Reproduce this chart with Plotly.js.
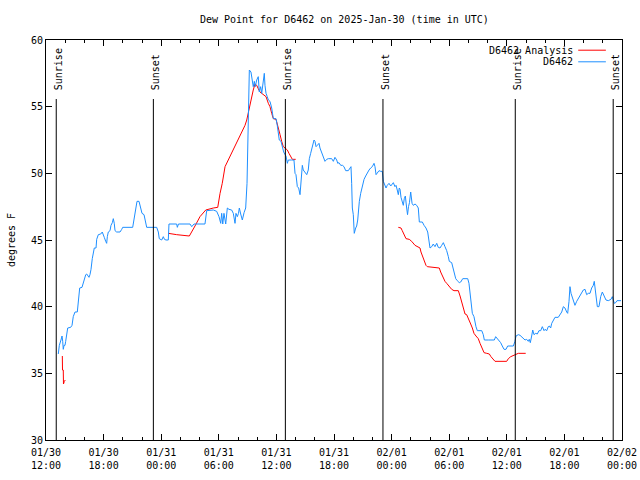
<!DOCTYPE html>
<html>
<head>
<meta charset="utf-8">
<script src="https://cdn.plot.ly/plotly-3.0.1.min.js"></script>
<style>html,body{margin:0;padding:0;background:#fff;}#chart{width:640px;height:480px;}</style>
</head>
<body>
<div id="chart"></div>
<script>
// Hours since 2025-01-30 12:00 UTC
const obsHours = [1.28,1.39,1.56,1.67,1.74,1.80,1.88,1.98,2.05,2.16,2.26,2.57,2.71,2.84,3.02,3.26,3.36,3.44,3.51,3.75,3.96,4.14,4.24,4.48,4.58,4.69,4.82,4.93,5.03,5.21,5.28,5.45,5.70,5.86,5.97,6.07,6.22,6.32,6.39,6.49,6.67,6.77,6.91,7.01,7.11,7.19,7.36,7.71,7.89,7.99,9.03,9.17,9.27,9.38,9.48,9.69,9.82,10.00,10.21,10.34,10.49,11.53,11.70,11.80,12.05,12.22,12.34,12.50,12.74,12.81,13.61,13.68,13.80,15.00,15.18,15.42,16.56,16.74,17.43,17.78,18.02,18.20,18.30,18.41,18.54,18.72,18.89,19.06,19.34,19.51,19.69,19.79,19.93,20.05,20.14,20.28,20.45,20.63,20.80,20.94,21.07,21.18,21.35,21.49,21.59,21.70,21.80,21.95,22.11,22.22,22.36,22.47,22.64,22.74,22.81,22.92,23.05,23.16,23.33,23.51,23.68,23.96,24.09,24.20,24.30,24.48,24.61,24.76,24.90,25.00,25.14,25.24,25.59,25.83,25.94,26.04,26.18,26.32,26.46,26.56,26.70,26.80,26.98,27.16,27.32,27.43,27.57,27.78,27.92,28.02,28.13,28.26,28.44,28.54,28.72,28.89,29.06,29.24,29.41,29.76,29.93,30.10,30.28,30.39,30.52,30.70,30.89,31.04,31.22,31.49,31.67,31.77,31.84,31.91,32.01,32.11,32.26,32.36,32.47,32.53,32.64,32.78,32.95,33.13,33.30,33.47,33.65,33.82,33.99,34.17,34.27,34.38,34.51,34.69,34.86,35.03,35.14,35.31,35.42,35.55,35.73,35.91,36.07,36.18,36.35,36.46,36.59,36.70,36.80,36.88,36.98,37.11,37.22,37.32,37.43,37.57,37.66,37.76,37.86,37.99,38.13,38.26,38.44,38.61,38.78,38.89,39.20,39.38,39.58,39.76,39.90,40.00,40.18,40.34,40.52,40.70,40.86,41.04,41.22,41.39,41.56,41.74,41.91,42.01,42.26,42.36,42.50,42.68,42.84,43.05,43.20,43.41,43.65,43.93,44.06,44.17,44.27,44.41,44.58,44.69,44.79,44.93,45.39,45.55,45.66,46.07,46.43,46.70,46.84,47.01,47.19,47.36,47.53,47.71,47.92,48.09,48.68,48.85,48.96,49.20,49.38,49.55,49.72,49.90,50.07,50.24,50.34,50.45,50.59,50.70,50.83,51.01,51.18,51.35,51.53,51.70,51.88,51.98,52.16,52.32,52.43,52.57,52.68,52.84,53.02,53.36,53.54,53.72,53.89,54.06,54.24,54.34,54.48,54.58,54.69,54.86,55.10,55.28,55.45,55.73,55.97,56.15,56.32,56.49,56.67,56.84,57.01,57.11,57.26,57.43,57.60,57.78,57.95,58.16,58.33,58.57,58.85,58.99,59.09,59.20,59.34,59.48,59.90];
const obsDew = [36.45,37.1,37.5,37.8,37.4,36.8,37.1,37.1,37.4,38.0,38.4,38.45,38.6,39.25,39.6,39.6,40.25,40.9,41.4,41.45,42.0,42.4,42.45,42.2,42.4,42.8,43.6,44.2,44.4,44.4,45.05,45.4,45.45,45.6,45.45,45.2,44.9,44.75,45.25,45.6,45.7,46.1,46.3,46.6,46.25,45.7,45.6,45.6,45.8,45.95,45.95,46.6,47.2,47.55,47.9,47.9,47.5,47.0,46.9,46.5,45.95,45.95,45.6,45.1,45.0,45.25,45.05,45.0,45.0,46.2,46.2,45.95,46.2,46.2,46.0,46.2,46.2,47.2,47.25,47.15,46.75,46.25,47.0,46.2,47.0,46.2,47.4,47.3,47.25,47.0,46.25,47.0,46.75,47.0,47.4,46.95,46.5,47.05,47.4,49.25,53.5,57.75,57.6,57.0,56.5,56.9,56.5,57.0,57.25,56.1,56.5,56.0,57.0,57.5,56.6,56.0,55.75,55.5,55.4,54.9,54.1,54.1,53.6,53.1,52.5,52.4,52.0,51.6,51.4,51.3,50.75,51.0,51.0,51.0,50.0,49.9,49.0,48.9,48.4,49.25,50.6,50.25,50.1,49.9,50.25,51.1,51.5,52.0,52.5,52.4,52.0,52.1,52.25,51.9,51.5,51.1,50.9,51.05,51.1,51.1,50.9,51.2,51.0,50.75,50.8,50.6,50.6,50.5,50.2,50.2,50.4,50.5,49.25,47.4,46.9,45.5,45.9,46.05,46.5,47.1,47.9,48.5,49.1,49.55,49.8,50.05,50.25,50.4,50.5,50.75,50.5,49.9,50.0,50.2,50.15,50.15,49.4,49.1,48.9,49.1,49.25,49.05,49.25,49.3,49.0,49.1,48.75,48.4,48.9,48.8,48.2,47.9,47.6,48.1,48.3,47.4,46.9,47.5,47.8,48.6,47.75,47.6,47.7,47.6,47.4,46.35,46.35,46.1,45.9,45.6,44.9,44.4,44.5,44.7,44.5,44.75,44.45,44.4,44.6,44.8,44.5,44.2,43.75,43.4,43.3,43.0,42.5,42.1,41.95,41.8,41.85,42.1,42.1,42.1,41.75,41.0,40.5,39.5,39.25,38.75,38.5,38.2,38.2,37.9,37.5,37.5,37.5,37.5,37.75,37.6,37.5,37.3,37.05,36.8,36.8,37.05,37.05,37.4,37.8,37.9,37.85,37.75,37.6,37.5,37.55,37.4,37.55,37.3,37.8,38.25,37.9,38.0,37.95,38.2,38.2,38.5,38.2,38.3,38.2,38.5,38.55,38.4,38.75,39.0,39.2,39.2,39.4,39.6,40.0,39.9,39.6,39.5,40.4,41.5,41.0,40.6,40.1,40.4,40.6,40.9,41.25,41.3,40.9,41.0,41.0,41.4,41.6,41.9,41.1,40.0,40.0,40.75,41.1,40.75,40.5,40.45,40.55,40.75,40.45,40.25,40.3,40.45,40.45];

// Analysis series (null = gap)
const anaHours = [1.70,1.72,1.80,1.82,1.91,2.01,2.05,
  12.74,13.09,13.61,14.93,15.18,15.52,16.04,16.64,17.43,17.89,18.13,18.36,18.65,18.82,19.17,19.69,20.21,20.73,20.91,21.18,21.35,21.59,21.77,21.95,22.11,22.29,22.47,22.64,22.92,23.16,23.33,23.51,23.68,23.96,24.20,24.38,24.55,24.72,24.90,25.14,25.31,25.52,25.66,26.01,26.05,
  36.70,36.98,37.11,37.29,37.50,37.84,38.09,38.44,38.78,38.96,39.06,39.24,39.41,39.58,39.72,40.24,40.97,41.11,41.28,41.56,41.74,41.98,42.26,42.50,42.95,43.13,43.30,43.47,43.65,43.82,44.06,44.24,44.41,44.58,44.79,45.03,45.21,45.45,45.63,45.91,46.18,46.35,46.59,46.77,47.99,48.16,48.41,48.61,48.85,49.20,49.97];
const anaDew = [36.3,35.25,35.25,34.2,34.4,34.5,null,
  45.5,45.45,45.4,45.3,45.6,46.05,46.75,47.25,47.4,47.45,48.5,49.25,50.5,50.75,51.25,52.0,52.8,53.6,54.0,55.0,55.6,56.25,56.7,56.6,56.35,56.1,56.0,55.9,55.75,55.25,55.0,54.5,54.1,54.05,53.5,52.9,52.4,52.0,51.9,51.75,51.5,51.2,51.05,51.05,null,
  45.95,45.9,45.7,45.4,45.1,45.05,44.9,44.6,44.5,44.4,44.1,43.75,43.4,43.1,43.0,42.95,42.9,42.6,42.3,41.9,41.75,41.5,41.3,41.2,41.2,40.8,40.4,39.9,39.45,39.4,39.05,38.7,38.4,38.0,37.8,37.6,37.25,36.9,36.55,36.5,36.45,36.25,36.05,35.9,35.9,36.1,36.25,36.3,36.4,36.5,36.5];

const sunTimes = ["2025-01-30 13:04","2025-01-30 23:11","2025-01-31 12:56","2025-01-31 23:06","2025-02-01 12:53","2025-02-01 23:05"];
const sunLabels = ["Sunrise","Sunset","Sunrise","Sunset","Sunrise","Sunset"];
const seriesNames = ["D6462 Analysis","D6462"];
const seriesColors = ["#ff0000","#1e8fff"];
const xRange = ['2025-01-30 12:00','2025-02-02 00:00'];

const BASE = Date.UTC(2025,0,30,12);
function toTime(h){ return new Date(BASE + h*3600000).toISOString().slice(0,19).replace('T',' '); }

const FONT = "DejaVu Sans Mono, monospace";

const traces = [
  {x: anaHours.map(toTime), y: anaDew, type:'scatter', mode:'lines', name: seriesNames[0],
   line:{color:seriesColors[0], width:1}, connectgaps:false},
  {x: obsHours.map(toTime), y: obsDew, type:'scatter', mode:'lines', name: seriesNames[1],
   line:{color:seriesColors[1], width:1}},
  {x: [], y: [], xaxis:'x2', type:'scatter', mode:'lines', showlegend:false, hoverinfo:'skip'}
];

const shapes = sunTimes.map(t => ({type:'line', xref:'x', yref:'paper', x0:t, x1:t, y0:0, y1:0.8525,
  line:{color:'#000', width:1}}));
const annotations = sunTimes.map((t,i) => ({x:t, xref:'x', y:0.87, yref:'paper', text:sunLabels[i],
  textangle:-90, showarrow:false, xanchor:'center', yanchor:'bottom', xshift:2,
  font:{family:FONT, size:10, color:'#000'}}));

// legend (gnuplot style: text then sample)
const legY = [0.9745, 0.9455];
seriesNames.forEach((n,i) => {
  annotations.push({x:0.918, xref:'paper', y:legY[i], yref:'paper', text:n, showarrow:false,
    xanchor:'right', yanchor:'middle', font:{family:FONT, size:10, color:'#000'}});
  shapes.push({type:'line', xref:'paper', yref:'paper', x0:0.924, x1:0.972, y0:legY[i], y1:legY[i],
    line:{color:seriesColors[i], width:1}});
});

const tickCommon = {ticks:'inside', tickcolor:'#000', showgrid:false, zeroline:false};

const layout = {
  width:640, height:480,
  margin:{l:46, r:18, t:40, b:40},
  paper_bgcolor:'#fff', plot_bgcolor:'#fff',
  showlegend:false,
  font:{family:FONT, size:10, color:'#000'},
  title:{text:'Dew Point for D6462 on 2025-Jan-30 (time in UTC)', x:0.518, xref:'paper', y:0.96, yanchor:'middle',
    font:{family:FONT, size:10, color:'#000'}},
  xaxis:Object.assign({type:'date', range:xRange, tick0:xRange[0], dtick:6*3600000,
    tickformat:'%m/%d<br>%H:%M', ticklen:6, showline:true, linecolor:'#000',
    linewidth:1, mirror:true, ticklabelstandoff:3, tickfont:{family:FONT, size:10, color:'#000'},
    minor:{dtick:2*3600000, tick0:xRange[0], ticks:'inside', ticklen:3, tickcolor:'#000', showgrid:false}}, tickCommon),
  xaxis2:Object.assign({type:'date', range:xRange, tick0:xRange[0], dtick:6*3600000, overlaying:'x', side:'top',
    anchor:'y', showticklabels:false, ticklen:6, showline:false,
    minor:{dtick:2*3600000, tick0:xRange[0], ticks:'inside', ticklen:3, tickcolor:'#000', showgrid:false}}, tickCommon),
  yaxis:Object.assign({range:[30,60], dtick:5, ticklen:6, showline:true, linecolor:'#000',
    linewidth:1, mirror:'ticks', tickfont:{family:FONT, size:10, color:'#000'},
    title:{text:'degrees F', standoff:13, font:{family:FONT, size:10, color:'#000'}}}, tickCommon),
  shapes:shapes, annotations:annotations
};

Plotly.newPlot('chart', traces, layout, {displayModeBar:false, staticPlot:true});
</script>
</body>
</html>
